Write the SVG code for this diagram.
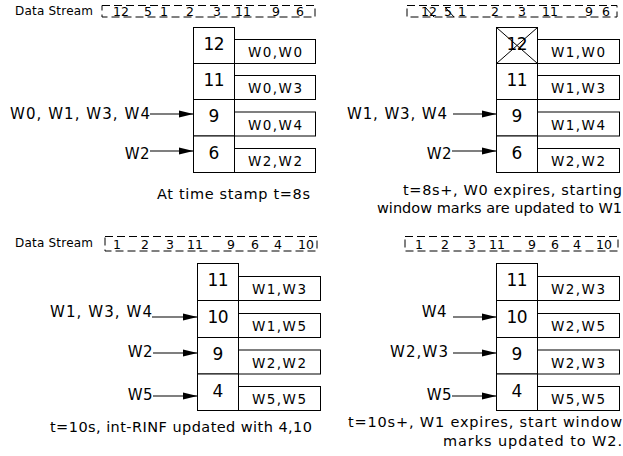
<svg xmlns="http://www.w3.org/2000/svg" width="623" height="456" viewBox="0 0 623 456">
<defs>
<style>
text{font-family:"DejaVu Sans","Liberation Sans",Arial,sans-serif;fill:#000}
.lbl{font-size:12px}
.sn{font-size:12.5px;text-anchor:middle}
.cn{font-size:17px;text-anchor:middle}
.bn{font-size:13.5px}
.al{font-size:15px}
.ae{font-size:15px;text-anchor:end;letter-spacing:0.5px}
.cap{font-size:14.5px}
.stream{fill:none;stroke:#000;stroke-width:1;stroke-dasharray:8,4}
.cell{fill:#fff;stroke:#000;stroke-width:1}
.ln{stroke:#000;stroke-width:1;fill:none}
.arr{stroke:#000;stroke-width:1.2;fill:none;marker-end:url(#ah)}
</style>
<marker id="ah" markerUnits="userSpaceOnUse" markerWidth="15" markerHeight="8" refX="15" refY="4" orient="auto">
<path d="M0,0.5 L15,4 L0,7.5 z" fill="#000"/>
</marker>
</defs>

<!-- Panel 1: top-left -->
<g id="stream1">
<text class="lbl" x="15" y="15" textLength="78">Data Stream</text>
<rect class="stream" x="102" y="5.5" width="213" height="11.5"/>
<text class="sn" x="121" y="15.5">12</text>
<text class="sn" x="148" y="15.5">5</text>
<text class="sn" x="164" y="15.5">1</text>
<text class="sn" x="190" y="15.5">2</text>
<text class="sn" x="217" y="15.5">3</text>
<text class="sn" x="243" y="15.5">11</text>
<text class="sn" x="276" y="15.5">9</text>
<text class="sn" x="300" y="15.5">6</text>
</g>
<g id="table1">
<rect class="cell" x="193.5" y="27.5" width="41" height="36"/>
<rect class="cell" x="193.5" y="63.5" width="41" height="36"/>
<rect class="cell" x="193.5" y="99.5" width="41" height="36.5"/>
<rect class="cell" x="193.5" y="136" width="41" height="36.5"/>
<text class="cn" x="214" y="50" textLength="21">12</text>
<text class="cn" x="214" y="86" textLength="21">11</text>
<text class="cn" x="214" y="122">9</text>
<text class="cn" x="214" y="159">6</text>
<rect class="cell" x="234.5" y="39.5" width="81" height="24"/>
<rect class="cell" x="234.5" y="75.5" width="81" height="24"/>
<rect class="cell" x="234.5" y="112" width="81" height="24"/>
<rect class="cell" x="234.5" y="148.5" width="81" height="24"/>
<text class="bn" x="248" y="57" textLength="54">W0,W0</text>
<text class="bn" x="248" y="93" textLength="54">W0,W3</text>
<text class="bn" x="248" y="129.5" textLength="54">W0,W4</text>
<text class="bn" x="248" y="166" textLength="54">W2,W2</text>
</g>
<g id="labels1">
<text class="al" x="10" y="119" textLength="140">W0, W1, W3, W4</text>
<text class="ae" x="150" y="158.5">W2</text>
<text class="cap" x="157" y="199" textLength="153">At time stamp t=8s</text>
</g>

<!-- Panel 2: top-right -->
<g id="stream2">
<rect class="stream" x="407" y="5.5" width="210" height="11.5"/>
<text class="sn" x="429" y="15.5">12</text>
<text class="sn" x="448" y="15.5">5</text>
<text class="sn" x="462" y="15.5">1</text>
<text class="sn" x="495" y="15.5">2</text>
<text class="sn" x="522" y="15.5">3</text>
<text class="sn" x="550" y="15.5">11</text>
<text class="sn" x="589" y="15.5">9</text>
<text class="sn" x="606" y="15.5">6</text>
<line class="ln" x1="425" y1="7" x2="434" y2="17"/>
<line class="ln" x1="445" y1="7" x2="454" y2="17"/>
</g>
<g id="table2">
<rect class="cell" x="496.5" y="27.5" width="41" height="36"/>
<rect class="cell" x="496.5" y="63.5" width="41" height="36"/>
<rect class="cell" x="496.5" y="99.5" width="41" height="36.5"/>
<rect class="cell" x="496.5" y="136" width="41" height="36.5"/>
<text class="cn" x="517" y="50" textLength="21">12</text>
<line class="ln" x1="496.5" y1="27.5" x2="537.5" y2="63.5"/>
<line class="ln" x1="537.5" y1="27.5" x2="496.5" y2="63.5"/>
<text class="cn" x="517" y="86" textLength="21">11</text>
<text class="cn" x="517" y="122">9</text>
<text class="cn" x="517" y="159">6</text>
<rect class="cell" x="537.5" y="39.5" width="82" height="24"/>
<rect class="cell" x="537.5" y="75.5" width="82" height="24"/>
<rect class="cell" x="537.5" y="112" width="82" height="24"/>
<rect class="cell" x="537.5" y="148.5" width="82" height="24"/>
<text class="bn" x="551" y="57" textLength="54">W1,W0</text>
<text class="bn" x="551" y="93" textLength="54">W1,W3</text>
<text class="bn" x="551" y="129.5" textLength="54">W1,W4</text>
<text class="bn" x="551" y="166" textLength="54">W2,W2</text>
</g>
<g id="labels2">
<text class="al" x="347" y="119" textLength="100">W1, W3, W4</text>
<text class="ae" x="452" y="158.5">W2</text>
<text class="cap" x="403" y="195" textLength="219">t=8s+, W0 expires, starting</text>
<text class="cap" x="377" y="213" textLength="245">window marks are updated to W1</text>
</g>

<!-- Panel 3: bottom-left -->
<g id="stream3">
<text class="lbl" x="15" y="247" textLength="78">Data Stream</text>
<rect class="stream" x="105" y="236.5" width="212" height="14.5"/>
<text class="sn" x="117" y="248.5">1</text>
<text class="sn" x="145" y="248.5">2</text>
<text class="sn" x="170" y="248.5">3</text>
<text class="sn" x="195" y="248.5">11</text>
<text class="sn" x="231" y="248.5">9</text>
<text class="sn" x="255" y="248.5">6</text>
<text class="sn" x="278" y="248.5">4</text>
<text class="sn" x="306" y="248.5">10</text>
</g>
<g id="table3">
<rect class="cell" x="197.5" y="263.5" width="41" height="37"/>
<rect class="cell" x="197.5" y="300.5" width="41" height="37"/>
<rect class="cell" x="197.5" y="337.5" width="41" height="36.5"/>
<rect class="cell" x="197.5" y="374" width="41" height="36.5"/>
<text class="cn" x="218" y="286" textLength="21">11</text>
<text class="cn" x="218" y="323" textLength="21">10</text>
<text class="cn" x="218" y="360">9</text>
<text class="cn" x="218" y="397">4</text>
<rect class="cell" x="238.5" y="276.5" width="82" height="24"/>
<rect class="cell" x="238.5" y="313.5" width="82" height="24"/>
<rect class="cell" x="238.5" y="350" width="82" height="24"/>
<rect class="cell" x="238.5" y="386.5" width="82" height="24"/>
<text class="bn" x="252" y="294" textLength="54">W1,W3</text>
<text class="bn" x="252" y="331" textLength="54">W1,W5</text>
<text class="bn" x="252" y="367.5" textLength="54">W2,W2</text>
<text class="bn" x="252" y="404" textLength="54">W5,W5</text>
</g>
<g id="labels3">
<text class="al" x="50" y="317" textLength="102">W1, W3, W4</text>
<text class="ae" x="153" y="357">W2</text>
<text class="ae" x="153" y="400">W5</text>
<text class="cap" x="50" y="432" textLength="262">t=10s, int-RINF updated with 4,10</text>
</g>

<!-- Panel 4: bottom-right -->
<g id="stream4">
<rect class="stream" x="405" y="236.5" width="213" height="14.5"/>
<text class="sn" x="419" y="248.5">1</text>
<text class="sn" x="445" y="248.5">2</text>
<text class="sn" x="472" y="248.5">3</text>
<text class="sn" x="497" y="248.5">11</text>
<text class="sn" x="532" y="248.5">9</text>
<text class="sn" x="555" y="248.5">6</text>
<text class="sn" x="577" y="248.5">4</text>
<text class="sn" x="604" y="248.5">10</text>
</g>
<g id="table4">
<rect class="cell" x="496.5" y="263.5" width="41" height="37"/>
<rect class="cell" x="496.5" y="300.5" width="41" height="37"/>
<rect class="cell" x="496.5" y="337.5" width="41" height="36.5"/>
<rect class="cell" x="496.5" y="374" width="41" height="36.5"/>
<text class="cn" x="517" y="286" textLength="21">11</text>
<text class="cn" x="517" y="323" textLength="21">10</text>
<text class="cn" x="517" y="360">9</text>
<text class="cn" x="517" y="397">4</text>
<rect class="cell" x="537.5" y="276.5" width="82" height="24"/>
<rect class="cell" x="537.5" y="313.5" width="82" height="24"/>
<rect class="cell" x="537.5" y="350" width="82" height="24"/>
<rect class="cell" x="537.5" y="386.5" width="82" height="24"/>
<text class="bn" x="551" y="294" textLength="54">W2,W3</text>
<text class="bn" x="551" y="331" textLength="54">W2,W5</text>
<text class="bn" x="551" y="367.5" textLength="54">W2,W3</text>
<text class="bn" x="551" y="404" textLength="54">W5,W5</text>
</g>
<g id="labels4">
<text class="ae" x="447" y="317">W4</text>
<text class="al" x="390" y="357" textLength="58">W2,W3</text>
<text class="ae" x="452" y="400">W5</text>
<text class="cap" x="348" y="427" textLength="274">t=10s+, W1 expires, start window</text>
<text class="cap" x="443" y="446" textLength="179">marks updated to W2.</text>
</g>

<g id="connectors">
<line class="arr" x1="150" y1="114" x2="193.5" y2="114"/>
<line class="arr" x1="150" y1="151" x2="193.5" y2="151"/>
<line class="arr" x1="453" y1="114" x2="496.5" y2="114"/>
<line class="arr" x1="452" y1="151" x2="496.5" y2="151"/>
<line class="arr" x1="152" y1="317" x2="197.5" y2="317"/>
<line class="arr" x1="153" y1="353" x2="197.5" y2="353"/>
<line class="arr" x1="153" y1="396" x2="197.5" y2="396"/>
<line class="arr" x1="453" y1="317" x2="496.5" y2="317"/>
<line class="arr" x1="453" y1="353" x2="496.5" y2="353"/>
<line class="arr" x1="452" y1="396" x2="496.5" y2="396"/>
</g>
</svg>
